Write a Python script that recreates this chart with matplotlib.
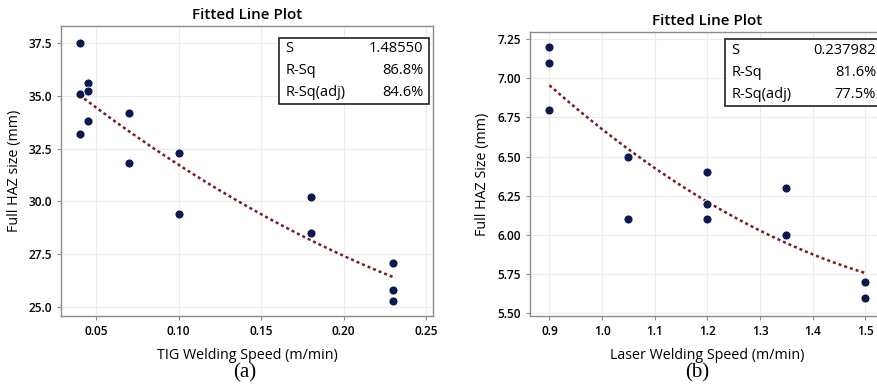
import numpy as np
from matplotlib import pyplot as plt
from matplotlib.patches import Rectangle

# ============================================================
# DONNEES
# ============================================================
tig_speed = [0.04, 0.04, 0.04, 0.045, 0.045, 0.045, 0.07, 0.07, 0.10, 0.10, 0.18, 0.18, 0.23, 0.23, 0.23]
tig_haz   = [37.5, 35.1, 33.2, 35.6, 35.2, 33.8, 34.2, 31.8, 32.3, 29.4, 30.2, 28.5, 27.1, 25.8, 25.3]
tig_stats = [('S', '1.48550'), ('R-Sq', '86.8%'), ('R-Sq(adj)', '84.6%')]

laser_speed = [0.9, 0.9, 0.9, 1.05, 1.05, 1.2, 1.2, 1.2, 1.35, 1.35, 1.5, 1.5]
laser_haz   = [7.2, 7.1, 6.8, 6.5, 6.1, 6.4, 6.2, 6.1, 6.3, 6.0, 5.7, 5.6]
laser_stats = [('S', '0.237982'), ('R-Sq', '81.6%'), ('R-Sq(adj)', '77.5%')]

plt.rcParams['font.family'] = ['Open Sans', 'DejaVu Sans']

DOT   = '#0a1a4e'
FIT   = '#7a1a1a'
GRID  = '#ececec'
FRAME = '#8a8a8a'

# ============================================================
# UN PANNEAU
# ============================================================
def panel(ax, x, y, xlabel, ylabel, stats, box):
    ax.grid(True, color=GRID, linewidth=0.8)
    ax.set_axisbelow(True)
    # ajustement quadratique comme minitab
    coef = np.polyfit(x, y, 2)
    xs = np.linspace(min(x), max(x), 100)
    ax.plot(xs, np.polyval(coef, xs), color=FIT, linestyle=(0, (1.2, 1.2)), linewidth=1.8)
    ax.plot(x, y, 'o', color=DOT, markersize=6.5, markeredgecolor='white', markeredgewidth=0.6)
    ax.set_xlabel(xlabel, fontsize=10.3, labelpad=7)
    ax.set_ylabel(ylabel, fontsize=10.3, labelpad=5)
    ax.set_title('Fitted Line Plot', fontsize=11, fontweight='semibold', pad=5)
    ax.tick_params(labelsize=8.6, length=3, color=FRAME)
    for t in ax.get_xticklabels() + ax.get_yticklabels():
        t.set_fontweight('semibold')
    for s in ax.spines.values():
        s.set_color(FRAME)
        s.set_linewidth(1.0)
    x0, x1, y0, y1 = box
    ax.add_patch(Rectangle((x0, y0), x1 - x0, y1 - y0, transform=ax.transAxes,
                           facecolor='white', edgecolor='#222222', linewidth=1.2, zorder=5, clip_on=False))
    h = (y1 - y0) / 3
    for i in range(len(stats)):
        name, val = stats[i]
        yy = y1 - h * (i + 0.5)
        ax.text(x0 + 0.018, yy, name, transform=ax.transAxes, fontsize=10.5, va='center', ha='left', zorder=6)
        ax.text(x1 - 0.015, yy, val, transform=ax.transAxes, fontsize=10.5, va='center', ha='right', zorder=6)

# ============================================================
# FIGURE
# ============================================================
fig = plt.figure(figsize=(8.77, 3.88), dpi=100)

ax1 = fig.add_axes([0.0696, 0.1856, 0.4242, 0.7474])
panel(ax1, tig_speed, tig_haz, 'TIG Welding Speed (m/min)', 'Full HAZ size (mm)',
      tig_stats, (0.586, 0.989, 0.731, 0.959))
ax1.set_xlim(0.0288, 0.2542)
ax1.set_ylim(24.59, 38.29)
ax1.set_xticks([0.05, 0.10, 0.15, 0.20, 0.25])
ax1.set_xticklabels(['0.05', '0.10', '0.15', '0.20', '0.25'])
ax1.set_yticks([25.0, 27.5, 30.0, 32.5, 35.0, 37.5])
ax1.set_yticklabels(['25.0', '27.5', '30.0', '32.5', '35.0', '37.5'])

ax2 = fig.add_axes([0.6043, 0.1856, 0.4048, 0.732])
panel(ax2, laser_speed, laser_haz, 'Laser Welding Speed (m/min)', 'Full HAZ Size (mm)',
      laser_stats, (0.549, 0.99, 0.739, 0.975))
ax2.set_xlim(0.863, 1.537)
ax2.set_ylim(5.483, 7.295)
ax2.set_xticks([0.9, 1.0, 1.1, 1.2, 1.3, 1.4, 1.5])
ax2.set_yticks([5.5, 5.75, 6.0, 6.25, 6.5, 6.75, 7.0, 7.25])
ax2.set_yticklabels(['5.50', '5.75', '6.00', '6.25', '6.50', '6.75', '7.00', '7.25'])

fig.text(0.279, 0.04, '(a)', fontsize=15, family='Liberation Serif', ha='center', va='center')
fig.text(0.795, 0.04, '(b)', fontsize=15, family='Liberation Serif', ha='center', va='center')

plt.savefig('out.png', dpi=100)
